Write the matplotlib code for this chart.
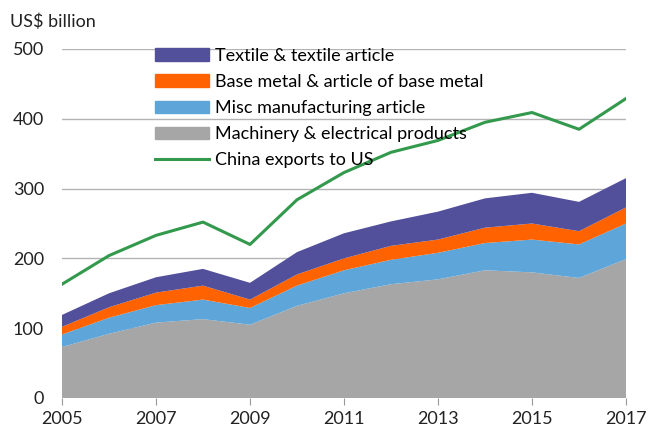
import matplotlib
matplotlib.use("Agg")
import matplotlib.pyplot as plt
from matplotlib.patches import Patch
from matplotlib.lines import Line2D

plt.rcParams['font.family'] = ['Lato', 'DejaVu Sans']

years = list(range(2005, 2018))
machinery = [73, 92, 108, 113, 105, 132, 150, 163, 170, 183, 180, 172, 199]
misc_manufacturing = [18, 23, 25, 28, 24, 29, 33, 35, 38, 39, 47, 48, 51]
base_metal = [11, 15, 18, 20, 12, 16, 17, 20, 19, 22, 23, 19, 23]
textile = [17, 20, 22, 24, 24, 32, 36, 35, 40, 42, 44, 42, 42]
china_exports = [163, 204, 233, 252, 220, 284, 323, 352, 369, 395, 409, 385, 429]

labels = ["Machinery & electrical products", "Misc manufacturing article",
          "Base metal & article of base metal", "Textile & textile article"]
colors = ["#a6a6a6", "#5ea5d9", "#ff6200", "#524f9b"]
green = "#33994d"

fig = plt.figure(figsize=(6.49, 4.32), dpi=100)
ax = fig.add_axes([62 / 649, 1 - 398 / 432, 564 / 649, 349 / 432])

ax.stackplot(years, machinery, misc_manufacturing, base_metal, textile,
             colors=colors, linewidth=0)
ax.plot(years, china_exports, color=green, linewidth=2.2)

ax.set_xlim(2005, 2017)
ax.set_ylim(0, 500)
ax.set_yticks(range(0, 501, 100))
ax.set_xticks(range(2005, 2018, 2))
ax.yaxis.grid(True, color="#b3b3b3", linewidth=1)
ax.set_axisbelow(True)
for s in ["top", "right", "left", "bottom"]:
    ax.spines[s].set_visible(False)
ax.tick_params(axis="y", length=0, labelsize=13, pad=13, colors="#222222")
ax.tick_params(axis="x", length=5, color="#999999", labelsize=13, pad=4,
               colors="#222222")
ax.tick_params(axis="x", color="#999999")

fig.text(10 / 649, 1 - 22 / 432, "US$ billion", fontsize=13, va="center",
         ha="left", color="#222222")

handles = [Patch(color=colors[3]), Patch(color=colors[2]), Patch(color=colors[1]),
           Patch(color=colors[0]), Line2D([], [], color=green, linewidth=2.2)]
leg_labels = [labels[3], labels[2], labels[1], labels[0], "China exports to US"]
fig.legend(handles, leg_labels, loc="upper left",
           bbox_to_anchor=(155 / 649, 1 - 48 / 432), frameon=False,
           fontsize=13, handlelength=3.0, handletextpad=0.35,
           labelspacing=0.56, borderpad=0, borderaxespad=0)

fig.savefig("out.png", dpi=100)
